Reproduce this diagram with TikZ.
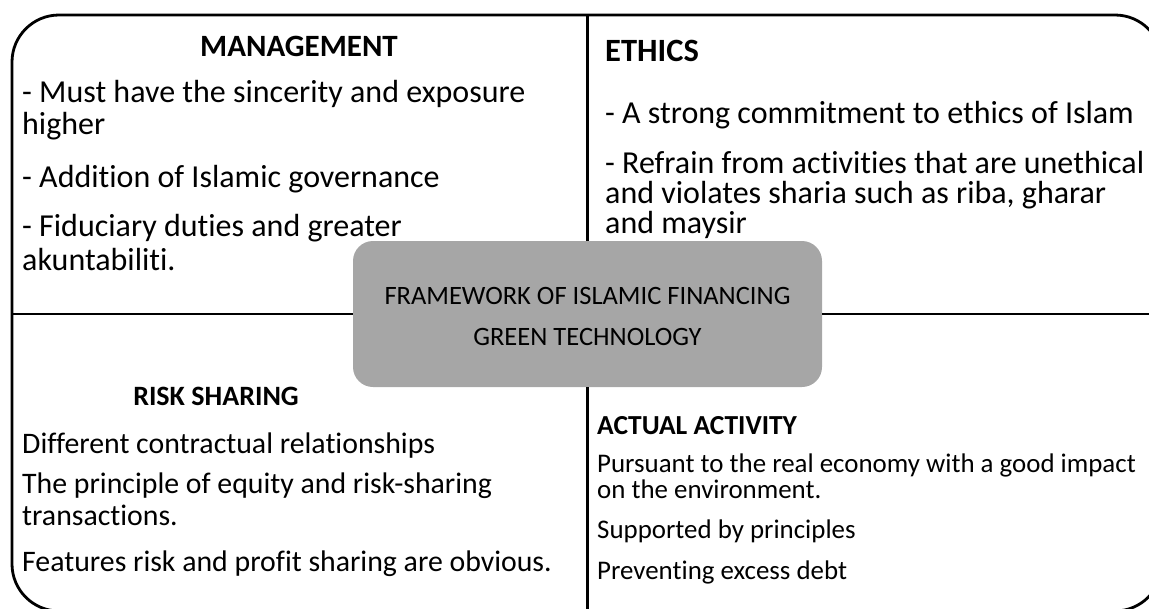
\documentclass[tikz,border=0pt]{standalone}
\usepackage{fontspec}
\setmainfont{Carlito}[Ligatures={NoCommon}]
\definecolor{boxgray}{RGB}{166,166,166}
\tikzset{
  frame/.style={line width=2.8pt, black},
  divider/.style={line width=2.8pt, black},
  bodyA/.style={anchor=base west, inner sep=0pt, font=\fontsize{32}{33}\selectfont},
  headA/.style={anchor=base, inner sep=0pt, font=\fontsize{31}{33}\selectfont\bfseries},
  headAw/.style={anchor=base west, inner sep=0pt, font=\fontsize{32.5}{33}\selectfont\bfseries},
  bodyC/.style={anchor=base west, inner sep=0pt, font=\fontsize{29.8}{31}\selectfont},
  headC/.style={anchor=base, inner sep=0pt, font=\fontsize{28}{30}\selectfont\bfseries},
  bodyD/.style={anchor=base west, inner sep=0pt, font=\fontsize{26.9}{28}\selectfont},
  headD/.style={anchor=base west, inner sep=0pt, font=\fontsize{27.5}{28}\selectfont\bfseries},
  centerbox/.style={fill=boxgray, rounded corners=20pt, minimum width=469pt, minimum height=146pt, inner sep=0pt},
  centertext/.style={anchor=base, inner sep=0pt, font=\fontsize{26.5}{27}\selectfont},
}
\begin{document}
\begin{tikzpicture}[x=1pt,y=-1pt]
\useasboundingbox (0,0) rectangle (1149,608);
\clip (0,0) rectangle (1149,608);
% outer frame
\draw[frame, rounded corners=47pt] (12,15) rectangle (1162,611);
% centre box
\node[centerbox] (hub) at (587.5,314) {};
% dividers
\coordinate (vtop) at (587.5,15);
\coordinate (vbot) at (587.5,611);
\coordinate (hleft) at (12,314);
\coordinate (hright) at (1162,314);
\draw[divider] (vtop) -- (hub.north);
\draw[divider] (hub.south) -- (vbot);
\draw[divider] (hleft) -- (hub.west);
\draw[divider] (hub.east) -- (hright);
% centre text
\node[centertext] (hubA) at (587.5,304) {FRAMEWORK OF ISLAMIC FINANCING};
\node[centertext] (hubB) at (587.5,345) {GREEN TECHNOLOGY};
% management
\node[headA] (mgmt) at (299,56) {MANAGEMENT};
\node[bodyA] (m1) at (22,102) {- Must have the sincerity and exposure};
\node[bodyA] (m2) at (22,134) {higher};
\node[bodyA] (m3) at (22,187) {- Addition of Islamic governance};
\node[bodyA] (m4) at (22,236) {- Fiduciary duties and greater};
\node[bodyA] (m5) at (22,270) {akuntabiliti.};
% ethics
\node[headAw] (eth) at (605,61) {ETHICS};
\node[bodyA] (e1) at (605,123) {- A strong commitment to ethics of Islam};
\node[bodyA] (e2) at (605,173) {- Refrain from activities that are unethical};
\node[bodyA] (e3) at (605,203) {and violates sharia such as riba, gharar};
\node[bodyA] (e4) at (605,233) {and maysir};
% risk sharing
\node[headC] (risk) at (216,405) {RISK SHARING};
\node[bodyC] (r1) at (22,453) {Different contractual relationships};
\node[bodyC] (r2) at (22,493) {The principle of equity and risk-sharing};
\node[bodyC] (r3) at (22,525) {transactions.};
\node[bodyC] (r4) at (22,571) {Features risk and profit sharing are obvious.};
% actual activity
\node[headD] (act) at (597,434) {ACTUAL ACTIVITY};
\node[bodyD] (a1) at (597,472) {Pursuant to the real economy with a good impact};
\node[bodyD] (a2) at (597,498) {on the environment.};
\node[bodyD] (a3) at (597,538) {Supported by principles};
\node[bodyD] (a4) at (597,579) {Preventing excess debt};
\end{tikzpicture}
\end{document}
